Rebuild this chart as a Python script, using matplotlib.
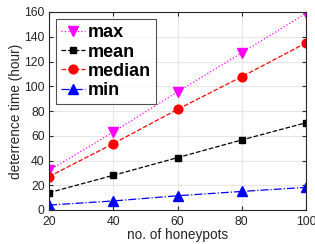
import matplotlib
matplotlib.use("Agg")
import matplotlib.pyplot as plt

plt.rcParams['font.family'] = ['Liberation Sans', 'DejaVu Sans']

honeypots = [20, 40, 60, 80, 100]
max_vals = [32, 63, 95.5, 127, 159]
mean_vals = [14, 28, 42.3, 56.6, 70.5]
median_vals = [27, 53.6, 81.3, 107.7, 135]
min_vals = [4, 7.3, 11.5, 15, 18.3]

fig = plt.figure(figsize=(3.15, 2.44), dpi=100)
ax = fig.add_axes([49/315, 1 - 210/244, (306-49)/315, (210-12)/244])

ax.plot(honeypots, max_vals, color='#ff00ff', linestyle=':', marker='v', markersize=7, linewidth=0.9, label='max')
ax.plot(honeypots, mean_vals, color='black', linestyle='--', marker='s', markersize=5, linewidth=0.9, label='mean')
ax.plot(honeypots, median_vals, color='red', linestyle='--', marker='o', markersize=6.3, linewidth=0.9, label='median')
ax.plot(honeypots, min_vals, color='blue', linestyle='-.', marker='^', markersize=7, linewidth=0.9, label='min')

ax.set_xlim(20, 100)
ax.set_ylim(0, 160)
ax.set_xticks([20, 40, 60, 80, 100])
ax.set_yticks(range(0, 161, 20))
ax.grid(True, color='#e6e6e6', linewidth=0.8)
ax.set_axisbelow(True)
ax.tick_params(direction='in', top=True, right=True, labelsize=8.8, colors='#262626', length=3)
ax.tick_params(axis='x', pad=4.5)
ax.tick_params(axis='y', pad=3)
for s in ax.spines.values():
    s.set_color('#262626')
    s.set_linewidth(0.8)

ax.set_xlabel('no. of honeypots', fontsize=9.8, color='#262626', labelpad=0)
ax.set_ylabel('deterrence time (hour)', fontsize=9.8, color='#262626', labelpad=1)

leg = ax.legend(loc='upper left', prop={'weight': 'bold', 'size': 13}, frameon=True, fancybox=False,
                edgecolor='#262626', handlelength=1.3, handletextpad=0.15, labelspacing=0.12,
                borderpad=0.3, borderaxespad=0, bbox_to_anchor=(0.026, 0.965))
leg.get_frame().set_linewidth(0.8)

fig.savefig('out.png', dpi=100)
